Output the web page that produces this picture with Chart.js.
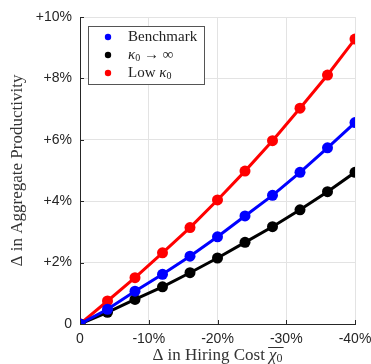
<!DOCTYPE html>
<html>
<head>
<meta charset="utf-8">
<script src="https://cdn.jsdelivr.net/npm/chart.js@4.4.1/dist/chart.umd.min.js"></script>
<style>
  html, body { margin: 0; padding: 0; background: #fff; }
  #wrap { width: 371px; height: 364px; }
</style>
</head>
<body>
<div id="wrap"><canvas id="grafico"></canvas></div>
<script>
// ===== dados =====
const hiringCost = [0, -4, -8, -12, -16, -20, -24, -28, -32, -36, -40];
const benchmark  = [0, 0.48, 1.07, 1.62, 2.21, 2.84, 3.52, 4.19, 4.94, 5.74, 6.56];
const kappaInf   = [0, 0.38, 0.80, 1.21, 1.67, 2.15, 2.66, 3.17, 3.72, 4.31, 4.94];
const lowKappa   = [0, 0.75, 1.51, 2.32, 3.14, 4.04, 4.98, 5.97, 7.03, 8.11, 9.28];
const xTicks = [0, -10, -20, -30, -40];
const yTicks = [0, 2, 4, 6, 8, 10];

const serif = '"Liberation Serif", "DejaVu Serif", serif';
const sans = '"Liberation Sans", Arial, sans-serif';

function pontos(ys) {
    return hiringCost.map((x, i) => ({ x: x, y: ys[i] }));
}

// desenha texto em pedaços (para subscritos / itálico)
function desenharRuns(ctx, runs, x, y) {
    runs.forEach(r => {
        ctx.font = r.font;
        ctx.fillText(r.t, x, y + (r.dy || 0));
        x += ctx.measureText(r.t).width;
    });
    return x;
}
function larguraRuns(ctx, runs) {
    let w = 0;
    runs.forEach(r => { ctx.font = r.font; w += ctx.measureText(r.t).width; });
    return w;
}

const legendRuns = [
    [{ t: 'Benchmark', font: '15px ' + serif }],
    [{ t: 'κ', font: 'italic 15px ' + serif }, { t: '0', font: '10px ' + serif, dy: 3 }, { t: ' → ∞', font: '15px ' + serif }],
    [{ t: 'Low ', font: '15px ' + serif }, { t: 'κ', font: 'italic 15px ' + serif }, { t: '0', font: '10px ' + serif, dy: 3 }]
];

const extras = {
    id: 'extras',
    afterDraw(chart) {
        const ctx = chart.ctx;
        const area = chart.chartArea;
        const sx = chart.scales.x, sy = chart.scales.y;
        ctx.save();

        // marcas internas dos eixos
        ctx.strokeStyle = '#262626';
        ctx.lineWidth = 1;
        ctx.beginPath();
        yTicks.forEach(v => {
            const py = Math.round(sy.getPixelForValue(v)) + 0.5;
            ctx.moveTo(area.left, py);
            ctx.lineTo(area.left + 4, py);
        });
        xTicks.forEach(v => {
            const px = Math.round(sx.getPixelForValue(v)) + 0.5;
            ctx.moveTo(px, area.bottom);
            ctx.lineTo(px, area.bottom - 4);
        });
        ctx.stroke();

        // legenda com moldura
        const bx = 88, by = 26, bw = 116, bh = 58;
        ctx.fillStyle = '#fff';
        ctx.fillRect(bx, by, bw, bh);
        ctx.strokeStyle = '#555';
        ctx.strokeRect(bx + 0.5, by + 0.5, bw, bh);
        ctx.textBaseline = 'middle';
        ctx.textAlign = 'left';
        chart.data.datasets.forEach((ds, i) => {
            const yy = by + 11 + i * 18;
            ctx.fillStyle = ds.borderColor;
            ctx.beginPath();
            ctx.arc(bx + 20, yy, 3.2, 0, Math.PI * 2);
            ctx.fill();
            ctx.fillStyle = '#222';
            desenharRuns(ctx, legendRuns[i], bx + 40, yy);
        });

        // título do eixo x
        ctx.fillStyle = '#333';
        const xr = [
            { t: 'Δ in Hiring Cost ', font: '17px ' + serif },
            { t: 'χ', font: 'italic 17px ' + serif },
            { t: '0', font: '12px ' + serif, dy: 3 }
        ];
        const w = larguraRuns(ctx, xr);
        const cx = (area.left + area.right) / 2;
        const x0 = cx - w / 2;
        const yT = 356;
        ctx.font = xr[0].font;
        const chiX = x0 + ctx.measureText(xr[0].t).width;
        const fim = desenharRuns(ctx, xr, x0, yT);
        ctx.strokeStyle = '#333';
        ctx.lineWidth = 1;
        ctx.beginPath();
        ctx.moveTo(chiX - 1, yT - 8.5);
        ctx.lineTo(fim + 1, yT - 8.5);
        ctx.stroke();

        // título do eixo y
        ctx.translate(18, (area.top + area.bottom) / 2);
        ctx.rotate(-Math.PI / 2);
        ctx.textAlign = 'center';
        ctx.font = '17px ' + serif;
        ctx.fillText('Δ in Aggregate Productivity', 0, 0);
        ctx.restore();
    }
};

new Chart(document.getElementById('grafico'), {
    type: 'line',
    data: {
        datasets: [
            { label: 'Benchmark', data: pontos(benchmark), borderColor: '#0000ff', backgroundColor: '#0000ff' },
            { label: 'kappa0 -> inf', data: pontos(kappaInf), borderColor: '#000000', backgroundColor: '#000000' },
            { label: 'Low kappa0', data: pontos(lowKappa), borderColor: '#ff0000', backgroundColor: '#ff0000' }
        ].map(d => Object.assign(d, { borderWidth: 3, pointRadius: 5.5, pointBorderWidth: 0, tension: 0 }))
    },
    options: {
        responsive: true,
        maintainAspectRatio: false,
        animation: false,
        layout: { padding: { top: 17, right: 16, left: 0, bottom: 0 } },
        plugins: { legend: { display: false }, tooltip: { enabled: false } },
        scales: {
            x: {
                type: 'linear',
                reverse: true,
                min: -40,
                max: 0,
                afterBuildTicks: s => { s.ticks = xTicks.map(v => ({ value: v })); },
                afterFit: s => { s.height = 40; s.paddingLeft = 0; s.paddingRight = 0; },
                grid: { color: '#e3e3e3', tickLength: 0, drawTicks: false },
                border: { color: '#262626', width: 1 },
                ticks: {
                    padding: 7,
                    color: '#262626',
                    font: { family: sans, size: 14 },
                    maxRotation: 0,
                    callback: v => v === 0 ? '0' : v + '%'
                }
            },
            y: {
                min: 0,
                max: 10,
                afterBuildTicks: s => { s.ticks = yTicks.map(v => ({ value: v })); },
                afterFit: s => { s.width = 80; s.paddingTop = 0; s.paddingBottom = 0; },
                grid: { color: '#e3e3e3', tickLength: 0, drawTicks: false },
                border: { color: '#262626', width: 1 },
                ticks: {
                    padding: 8,
                    color: '#262626',
                    font: { family: sans, size: 14 },
                    callback: v => v === 0 ? '0' : '+' + v + '%'
                }
            }
        }
    },
    plugins: [extras]
});
</script>
</body>
</html>
